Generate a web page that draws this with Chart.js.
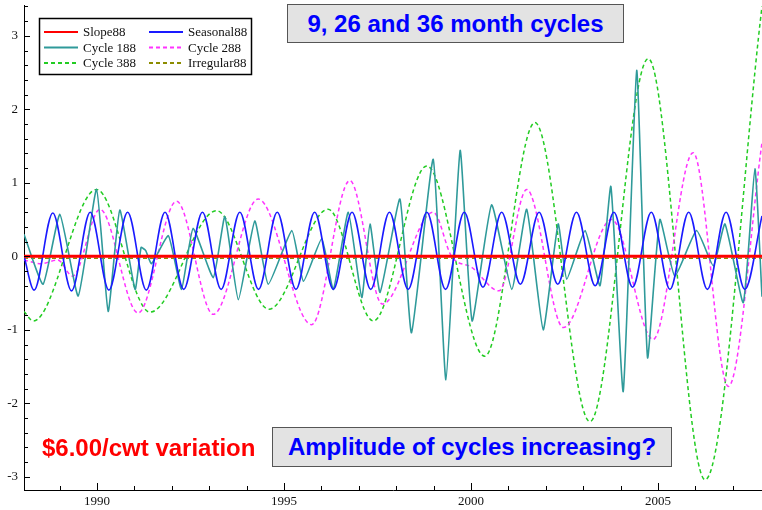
<!DOCTYPE html>
<html>
<head>
<meta charset="utf-8">
<title>9, 26 and 36 month cycles</title>
<script src="https://cdn.jsdelivr.net/npm/chart.js@4.4.1/dist/chart.umd.min.js"></script>
<style>
body{margin:0;background:#fff}
#wrap{position:relative;width:762px;height:510px;overflow:hidden}
.box{position:absolute;box-sizing:border-box;background:#e3e3e3;border:1.5px solid #555;color:#0000ff;text-align:center;white-space:nowrap;font:bold 24px "Liberation Sans",Arial,sans-serif}
.note{position:absolute;white-space:nowrap;color:#ff0000;font:bold 24px "Liberation Sans",Arial,sans-serif;line-height:28px}
</style>
</head>
<body>
<div id="wrap">
  <canvas id="c" width="762" height="510"></canvas>
  <div class="box" style="left:287px;top:4px;width:337px;height:39px;line-height:38px">9, 26 and 36 month cycles</div>
  <div class="note" style="left:42px;top:434px">$6.00/cwt variation</div>
  <div class="box" style="left:272px;top:427px;width:400px;height:40px;line-height:38px">Amplitude of cycles increasing?</div>
</div>
<script>
// series (x = decimal year)
const seriesNames = ['Slope88', 'Seasonal88', 'Cycle 188', 'Cycle 288', 'Cycle 388', 'Irregular88'];

const slopeX = [1988.05, 2007.78];
const slopeY = [0, 0];

const seasonalX = [1988.05, 1988.32, 1988.82, 1989.32, 1989.82, 1990.32, 1990.82, 1991.32, 1991.82, 1992.32, 1992.82,
  1993.32, 1993.82, 1994.32, 1994.82, 1995.32, 1995.82, 1996.32, 1996.82, 1997.32, 1997.82, 1998.32, 1998.82,
  1999.32, 1999.82, 2000.32, 2000.82, 2001.32, 2001.82, 2002.32, 2002.82, 2003.32, 2003.82, 2004.32, 2004.82,
  2005.32, 2005.82, 2006.32, 2006.82, 2007.32, 2007.78];
const seasonalY = [0.0, -0.46, 0.59, -0.47, 0.6, -0.46, 0.6, -0.46, 0.6, -0.45, 0.6,
  -0.45, 0.6, -0.45, 0.6, -0.45, 0.6, -0.45, 0.6, -0.45, 0.6, -0.45, 0.6,
  -0.45, 0.6, -0.42, 0.6, -0.38, 0.6, -0.38, 0.6, -0.4, 0.6, -0.42, 0.6,
  -0.45, 0.6, -0.45, 0.6, -0.45, 0.55];

const cycle188X = [1988.05, 1988.56, 1989.01, 1989.50, 1989.99, 1990.30, 1990.61, 1991.02, 1991.18, 1991.30, 1991.46,
  1991.91, 1992.26, 1992.57, 1993.11, 1993.42, 1993.78, 1994.22, 1994.58, 1995.21, 1995.52, 1996.01, 1996.32,
  1996.72, 1997.08, 1997.30, 1997.57, 1998.10, 1998.41, 1998.99, 1999.33, 1999.71, 2000.03, 2000.55, 2001.09,
  2001.49, 2001.93, 2002.33, 2002.56, 2003.05, 2003.45, 2003.74, 2004.07, 2004.43, 2004.72, 2005.05, 2005.45,
  2006.03, 2006.48, 2006.79, 2007.28, 2007.59, 2007.78];
const cycle188Y = [0.30, -0.38, 0.57, -0.54, 0.91, -0.75, 0.63, -0.45, 0.12, 0.08, -0.10,
  0.28, -0.45, 0.38, -0.29, 0.54, -0.59, 0.48, -0.38, 0.35, -0.34, 0.24, -0.45,
  0.60, -0.56, 0.44, -0.49, 0.78, -1.04, 1.32, -1.68, 1.44, -0.88, 0.70, -0.45,
  0.64, -1.00, 0.44, -0.31, 0.35, -0.40, 0.95, -1.84, 2.53, -1.38, 0.50, -0.27,
  0.35, -0.13, 0.44, -0.63, 1.19, -0.55];

const cycle288X = [1988.05, 1988.50, 1988.95, 1989.35, 1990.08, 1991.10, 1992.13, 1993.11, 1994.31, 1995.74, 1996.76,
  1997.63, 1998.99, 1999.48, 2000.02, 2000.75, 2001.49, 2002.47, 2003.76, 2004.87, 2005.94, 2006.88, 2007.78];
const cycle288Y = [-0.05, -0.10, -0.05, -0.27, 0.64, -0.77, 0.75, -0.79, 0.78, -0.93, 1.03,
  -0.65, 0.60, 0.0, -0.15, -0.47, 0.91, -0.97, 0.50, -1.13, 1.41, -1.77, 1.55];

const cycle388X = [1988.05, 1988.30, 1989.99, 1991.42, 1993.20, 1994.60, 1996.18, 1997.39, 1998.82, 2000.37, 2001.71,
  2003.18, 2004.74, 2006.26, 2007.78];
const cycle388Y = [-0.75, -0.88, 0.91, -0.76, 0.62, -0.72, 0.64, -0.88, 1.23, -1.36, 1.82,
  -2.25, 2.69, -3.04, 3.40];

const irregularX = [1988.05, 2007.78];
const irregularY = [-0.025, -0.025];

const yTickLabels = [-3, -2, -1, 0, 1, 2, 3];
const xTickLabels = [1990, 1995, 2000, 2005];

const pts = (xs, ys) => xs.map((x, i) => ({ x, y: ys[i] }));

const legendBox = {
  id: 'legendBox',
  afterDraw(chart) {
    const ctx = chart.ctx;
    ctx.save();
    ctx.fillStyle = '#fff';
    ctx.fillRect(39, 18, 212, 56);
    ctx.strokeStyle = '#000';
    ctx.lineWidth = 1.5;
    ctx.strokeRect(39.5, 18.5, 212, 56);
    ctx.font = '13px "Liberation Serif", serif';
    ctx.textBaseline = 'middle';
    chart.data.datasets.forEach((ds, i) => {
      const col = i % 2, row = Math.floor(i / 2);
      const x0 = col ? 149 : 44;
      const y0 = 32 + row * 15.5;
      ctx.strokeStyle = ds.borderColor;
      ctx.lineWidth = 2;
      ctx.setLineDash(ds.borderDash || []);
      ctx.beginPath();
      ctx.moveTo(x0, y0);
      ctx.lineTo(x0 + 34, y0);
      ctx.stroke();
      ctx.setLineDash([]);
      ctx.fillStyle = '#111';
      ctx.fillText(ds.label, x0 + 39, y0 + 1);
    });
    ctx.restore();
  }
};

// little tick marks drawn inside the axes
const innerTicks = {
  id: 'innerTicks',
  afterDraw(chart) {
    const { ctx, chartArea: a, scales: { x, y } } = chart;
    ctx.save();
    ctx.strokeStyle = '#000';
    ctx.lineWidth = 1;
    ctx.beginPath();
    for (let k = -15; k <= 17; k++) {
      const py = Math.round(y.getPixelForValue(k / 5)) + 0.5;
      if (py < a.top || py > a.bottom) continue;
      const len = k % 5 === 0 ? 6 : 4;
      ctx.moveTo(a.left, py);
      ctx.lineTo(a.left + len, py);
    }
    for (let yr = 1989; yr <= 2007; yr++) {
      const px = Math.round(x.getPixelForValue(yr)) + 0.5;
      const len = yr % 5 === 0 ? 7 : 4;
      ctx.moveTo(px, a.bottom);
      ctx.lineTo(px, a.bottom - len);
    }
    ctx.stroke();
    ctx.restore();
  }
};

const tickFont = { family: '"Liberation Serif", serif', size: 13 };

new Chart(document.getElementById('c'), {
  type: 'line',
  data: {
    datasets: [
      { label: seriesNames[0], data: pts(slopeX, slopeY), borderColor: '#ff0000', borderWidth: 3 },
      { label: seriesNames[1], data: pts(seasonalX, seasonalY), borderColor: '#1a1aff', borderWidth: 1.6, cubicInterpolationMode: 'monotone' },
      { label: seriesNames[2], data: pts(cycle188X, cycle188Y), borderColor: '#2f9a9a', borderWidth: 1.6, tension: 0.15 },
      { label: seriesNames[3], data: pts(cycle288X, cycle288Y), borderColor: '#ff33ff', borderWidth: 1.5, borderDash: [4, 3], cubicInterpolationMode: 'monotone' },
      { label: seriesNames[4], data: pts(cycle388X, cycle388Y), borderColor: '#22cc22', borderWidth: 1.5, borderDash: [4, 3], cubicInterpolationMode: 'monotone' },
      { label: seriesNames[5], data: pts(irregularX, irregularY), borderColor: '#8c8c00', borderWidth: 1.5, borderDash: [4, 3] }
    ]
  },
  options: {
    responsive: false,
    animation: false,
    devicePixelRatio: 1,
    layout: { padding: { top: 5, right: 0, left: 0, bottom: 0 } },
    elements: { point: { radius: 0 } },
    plugins: { legend: { display: false }, tooltip: { enabled: false } },
    scales: {
      x: {
        type: 'linear',
        min: 1988.05,
        max: 2007.78,
        afterFit(s) { s.height = 20; s.paddingLeft = 0; s.paddingRight = 0; },
        border: { display: true, color: '#000', width: 1 },
        grid: { display: true, drawOnChartArea: false, drawTicks: false },
        ticks: {
          stepSize: 5,
          includeBounds: false,
          padding: 4,
          color: '#111',
          font: tickFont,
          maxRotation: 0,
          callback: v => xTickLabels.includes(v) ? String(v) : ''
        }
      },
      y: {
        min: -3.18,
        max: 3.42,
        afterFit(s) { s.width = 24; s.paddingTop = 0; s.paddingBottom = 0; },
        border: { display: true, color: '#000', width: 1 },
        grid: { display: true, drawOnChartArea: false, drawTicks: false },
        ticks: {
          stepSize: 1,
          includeBounds: false,
          padding: 6,
          color: '#111',
          font: tickFont,
          callback: v => yTickLabels.includes(v) ? String(v) : ''
        }
      }
    }
  },
  plugins: [innerTicks, legendBox]
});
</script>
</body>
</html>
